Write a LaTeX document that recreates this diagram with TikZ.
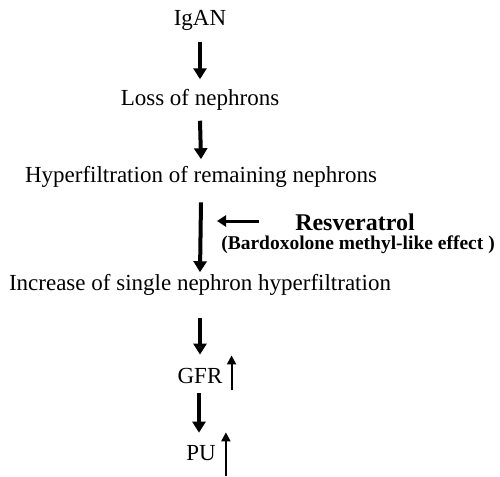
\documentclass[tikz,border=0pt]{standalone}
\usepackage{fontspec}
\setmainfont{Liberation Serif}
\usetikzlibrary{arrows.meta}

\tikzset{
  step txt/.style={font=\fontsize{23}{26}\selectfont, inner sep=2pt},
  big arrow/.style={line width=4pt, -{Triangle[length=11pt, width=13pt]}},
  up arrow/.style={line width=2pt, -{Triangle[length=9pt, width=9pt]}}
}

\begin{document}
\begin{tikzpicture}[x=1pt, y=1pt]
  \useasboundingbox (0,0) rectangle (500,-476);
  \node[step txt] (igan) at (200,-20) {IgAN};
  \node[step txt] (loss) at (200,-100) {Loss of nephrons};
  \node[step txt] (hyper) at (201,-177) {Hyperfiltration of remaining nephrons};
  \node[step txt] (single) at (200,-285) {Increase of single nephron hyperfiltration};
  \node[step txt] (gfr) at (200,-376) {GFR};
  \node[step txt] (pu) at (201,-453) {PU};
  \node[font=\fontsize{24}{26}\selectfont\bfseries, inner sep=0pt, text depth=0pt, anchor=base] (res) at (355,-230) {Resveratrol};
  \node[font=\fontsize{19.5}{21}\selectfont\bfseries, inner sep=0pt, text height=13pt, anchor=base] (bard) at (358,-249) {(Bardoxolone methyl-like effect )};
  \coordinate (resend) at (217,-221);

  \draw[big arrow] ([yshift=-10pt]igan.south) -- ([yshift=8pt]loss.north);
  \draw[big arrow] ([yshift=-8pt]loss.south) -- ([yshift=5pt]hyper.north);
  \draw[big arrow] ([yshift=-12.5pt]hyper.south) -- (single.north);
  \draw[big arrow] ([yshift=-20pt]single.south) -- ([yshift=11.5pt]gfr.north);
  \draw[big arrow] ([xshift=-1pt,yshift=-7.5pt]gfr.south) -- ([xshift=-2pt,yshift=10.5pt]pu.north);
  \draw[line width=3pt, -{Triangle[length=9pt, width=11pt]}, shorten <=36pt] (res.west |- resend) -- (resend);
  \draw[up arrow] ([xshift=7pt,yshift=-4.5pt]gfr.south east) -- ++(0,35);
  \draw[up arrow] ([xshift=8pt,yshift=-13.5pt]pu.south east) -- ++(0,44);
\end{tikzpicture}
\end{document}
